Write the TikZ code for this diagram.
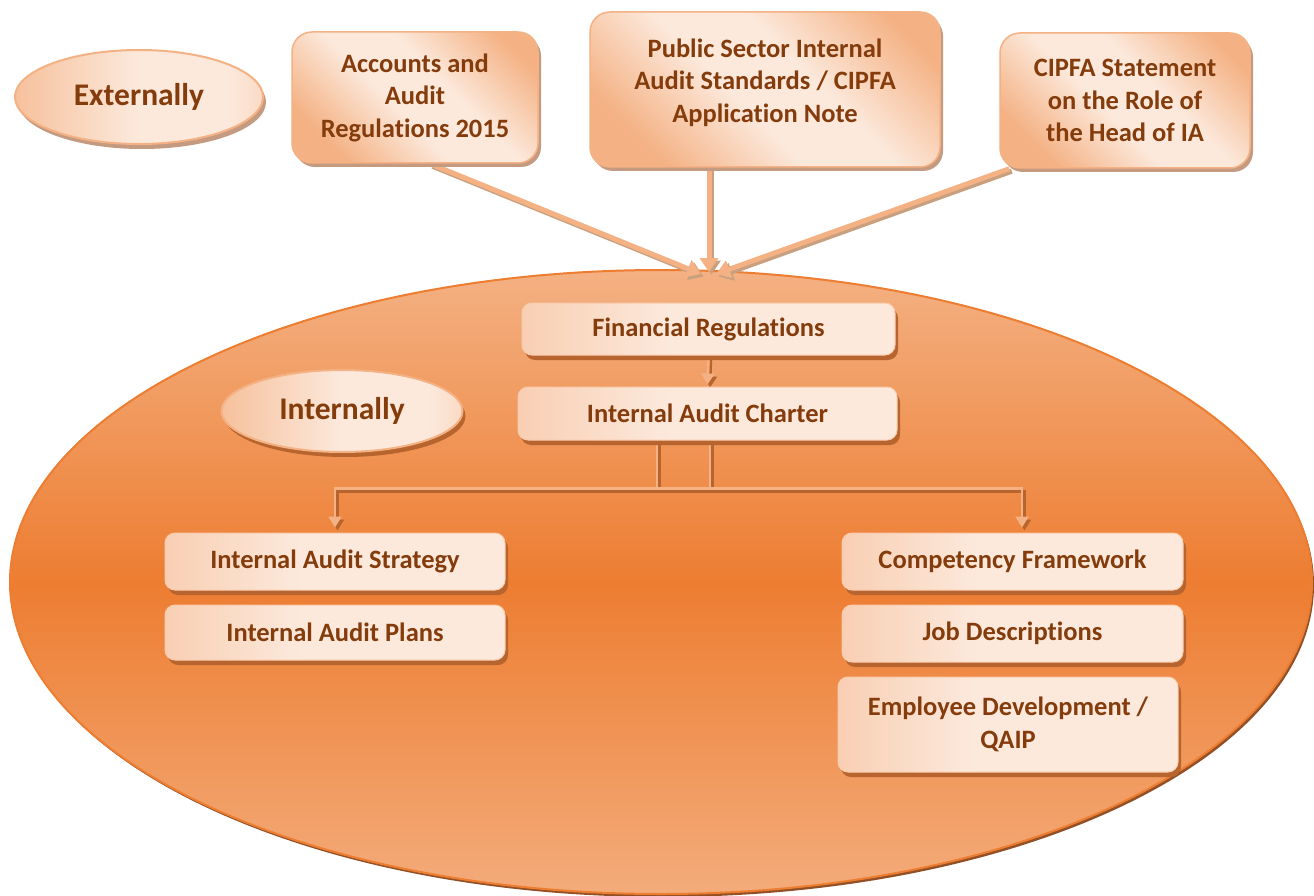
\documentclass[tikz,border=0pt]{standalone}
\usepackage{fontspec}
\setmainfont{Carlito}[Ligatures=NoCommon]
\usetikzlibrary{shadows,arrows.meta,calc,shapes.geometric,backgrounds}
\definecolor{txt}{HTML}{843C0C}
\definecolor{orL}{HTML}{F4B183}
\definecolor{orM}{HTML}{ED7D31}
\definecolor{orS}{HTML}{F8CBAD}
\definecolor{orT}{HTML}{F5BE9A}
\definecolor{peach}{HTML}{FCE9DC}
\definecolor{shOut}{HTML}{C49A80}
\definecolor{shIn}{HTML}{B8642F}
\definecolor{shArr}{HTML}{C8A080}
\pgfdeclarehorizontalshading{extsh}{100bp}{color(0bp)=(orL); color(25bp)=(orL); color(45bp)=(peach); color(58bp)=(peach); color(78bp)=(orL); color(100bp)=(orL)}
\pgfdeclarehorizontalshading{insh}{100bp}{color(0bp)=(orT); color(22bp)=(orS); color(45bp)=(peach); color(75bp)=(peach); color(100bp)=(orS)}
\pgfdeclarehorizontalshading{ovsh}{100bp}{color(0bp)=(orL); color(15bp)=(orL); color(50bp)=(peach); color(68bp)=(peach); color(95bp)=(orL); color(100bp)=(orL)}
\pgfdeclarelayer{mid}
\pgfsetlayers{background,mid,main}
\begin{document}
\begin{tikzpicture}[x=1pt,y=-1pt,
  lbl/.style={font=\fontsize{26.5}{32.5}\selectfont\bfseries, text=txt, align=center, inner sep=0pt},
  extbox/.style={lbl, rectangle, rounded corners=20pt, draw=orL, line width=1.5pt,
    shading=extsh, shading angle=45,
    drop shadow={shadow xshift=3pt, shadow yshift=-4pt, fill=shOut, opacity=1}},
  inbox/.style={lbl, rectangle, rounded corners=10pt, draw=orS, line width=1pt,
    shading=insh, shading angle=0,
    drop shadow={shadow xshift=3pt, shadow yshift=-5pt, fill=shIn, opacity=1}},
  oval/.style={lbl, ellipse, draw=orL, line width=2pt, inner sep=0pt,
    font=\fontsize{31.5}{36}\selectfont\bfseries,
    shading=ovsh, shading angle=0},
  bigarrow/.style={line width=5pt, draw=orL, -{Triangle[width=18pt,length=14pt]}},
  bigshadow/.style={line width=5pt, draw=shArr, -{Triangle[width=18pt,length=14pt]},
    transform canvas={xshift=2.5pt,yshift=-2.5pt}},
  conn/.style={line width=2.5pt, draw=orL},
  connsh/.style={line width=2.5pt, draw=shIn, transform canvas={xshift=2.5pt,yshift=-3pt}},
  tipS/.style={-{Triangle[width=13pt,length=11pt]}},
]
\begin{pgfonlayer}{background}
\fill[white] (0,0) rectangle (1314,896);
\end{pgfonlayer}
\useasboundingbox (0,0) rectangle (1314,896);

% big "internally" ellipse
\begin{pgfonlayer}{background}
\node[ellipse, minimum width=1302pt, minimum height=624pt, draw=orM, line width=2pt,
  top color=orL, bottom color=orL!90!orM, middle color=orM,
  drop shadow={shadow xshift=2pt, shadow yshift=-3pt, fill=shIn!80!black, opacity=1}]
  (inside) at (661,582) {};
\end{pgfonlayer}

% external boxes
\node[oval, minimum width=248pt, minimum height=94pt,
  drop shadow={shadow xshift=3pt, shadow yshift=-5pt, fill=shOut, opacity=1}]
  (ext) at (139,97) {Externally};
\node[extbox, minimum width=246pt, minimum height=131pt] (acc) at (415,97.5)
  {Accounts and\\Audit\\Regulations 2015};
\node[extbox, minimum width=350pt, minimum height=155pt, text depth=18pt] (psias) at (765,89.5)
  {Public Sector Internal\\Audit Standards / CIPFA\\Application Note};
\node[extbox, minimum width=250pt, minimum height=135pt] (cipfa) at (1125,100.5)
  {CIPFA Statement\\on the Role of\\the Head of IA};

% internal boxes
\node[oval, minimum width=241pt, minimum height=82pt,
  drop shadow={shadow xshift=3pt, shadow yshift=-5pt, fill=shIn, opacity=1}]
  (int) at (342,411) {Internally};
\node[inbox, minimum width=373pt, minimum height=52pt] (fr) at (708.5,329) {Financial Regulations};
\node[inbox, minimum width=379pt, minimum height=53pt] (ch) at (707.5,413.5) {Internal Audit Charter};
\node[inbox, minimum width=340pt, minimum height=57pt] (strat) at (335,561.5) {Internal Audit Strategy};
\node[inbox, minimum width=340pt, minimum height=55pt] (plans) at (335,632.5) {Internal Audit Plans};
\node[inbox, minimum width=341pt, minimum height=57pt] (comp) at (1012.5,561.5) {Competency Framework};
\node[inbox, minimum width=341pt, minimum height=57pt] (job) at (1012.5,633.5) {Job Descriptions};
\node[inbox, minimum width=340pt, minimum height=95pt] (emp) at (1008,724.5) {Employee Development /\\QAIP};

\coordinate (conv) at (709,272);
\coordinate (jl) at ([xshift=-50.5pt]ch.south);
\coordinate (jr) at ([xshift=2.5pt]ch.south);
\coordinate (jm) at ([yshift=-48pt]ch.south);
\coordinate (sin) at ([yshift=5pt]strat.north);
\coordinate (cin) at ([xshift=9.5pt,yshift=5pt]comp.north);

\begin{pgfonlayer}{mid}
% converging arrows (shadows first)
\draw[bigshadow] ([xshift=15pt]acc.south) -- ([xshift=-8pt,yshift=-2pt]conv);
\draw[bigshadow] ([xshift=-56pt]psias.south) -- (conv);
\draw[bigshadow] ([xshift=10pt]cipfa.south west) -- ([xshift=7pt,yshift=-2pt]conv);
\draw[bigarrow] ([xshift=15pt]acc.south) -- ([xshift=-8pt,yshift=-2pt]conv);
\draw[bigarrow] ([xshift=-56pt]psias.south) -- (conv);
\draw[bigarrow] ([xshift=10pt]cipfa.south west) -- ([xshift=7pt,yshift=-2pt]conv);

% charter connectors
\draw[connsh, tipS] (fr.south) -- ([yshift=2pt]ch.north);
\draw[conn, tipS] (fr.south) -- ([yshift=2pt]ch.north);

\draw[connsh, tipS] (jl) |- (jm) -| (cin);
\draw[connsh, tipS] (jr) |- (jm) -| (sin);
\draw[conn, tipS] (jl) |- (jm) -| (cin);
\draw[conn, tipS] (jr) |- (jm) -| (sin);
\end{pgfonlayer}
\end{tikzpicture}
\end{document}
